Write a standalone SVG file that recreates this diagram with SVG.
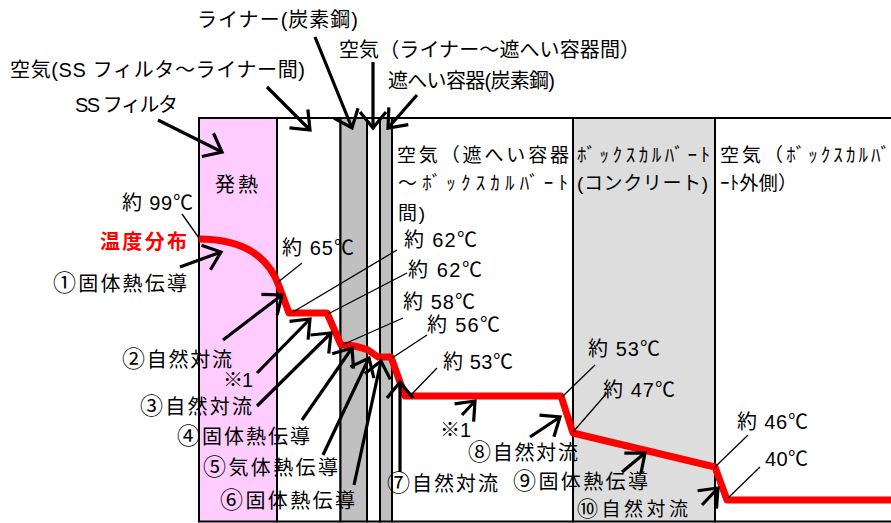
<svg xmlns="http://www.w3.org/2000/svg" width="891" height="523" viewBox="0 0 891 523">
<style>
.t{font-family:"Liberation Sans","Noto Sans CJK JP",sans-serif;font-size:20px;fill:#000}
.hd{font-family:"Liberation Sans","Noto Sans CJK JP",sans-serif;font-size:19px;fill:#000}
.cd{font-family:"Noto Sans CJK JP",sans-serif;font-size:23px}
.red{fill:#FF0000;font-weight:bold}
.col{stroke:#000;stroke-width:2}
.ar{fill:none;stroke:#000;stroke-width:3.2;marker-end:url(#ah)}
.ld{fill:none;stroke:#000;stroke-width:1.3}
.curve{fill:none;stroke:#FF0000;stroke-width:7;stroke-linejoin:round}
</style>
<defs>
<marker id="ah" markerUnits="userSpaceOnUse" viewBox="-20 -16 24 32" markerWidth="24" markerHeight="32" refX="0" refY="0" orient="auto" overflow="visible">
<path d="M-16,-13 L0,0 L-16,13" fill="none" stroke="#000" stroke-width="3.2"/>
</marker>
</defs>
<rect width="891" height="523" fill="#fff"/>

<g id="ss-filter">
<rect class="col" x="199" y="118" width="78" height="403.5" fill="#FFCCFF"/>
<text class="t" x="215" y="192" textLength="43" lengthAdjust="spacing">発熱</text>
</g>
<g id="air-ss-liner"><rect class="col" x="277" y="118" width="63.5" height="403.5" fill="#fff"/></g>
<g id="liner"><rect class="col" x="340.5" y="118" width="26.5" height="403.5" fill="#C0C0C0"/></g>
<g id="air-liner-shield"><rect class="col" x="367" y="118" width="13" height="403.5" fill="#fff"/></g>
<g id="shield"><rect class="col" x="380" y="118" width="12" height="403.5" fill="#C0C0C0"/></g>
<g id="air-shield-culvert">
<rect class="col" x="392" y="118" width="181" height="403.5" fill="#fff"/>
<text class="hd" x="397" y="162" textLength="172" lengthAdjust="spacing">空気（遮へい容器</text>
<text class="hd" x="398" y="190" textLength="170" lengthAdjust="spacing">～ﾎﾞｯｸｽｶﾙﾊﾞｰﾄ</text>
<text class="hd" x="398" y="220" textLength="27" lengthAdjust="spacing">間)</text>
</g>
<g id="box-culvert">
<rect class="col" x="573" y="118" width="142" height="403.5" fill="#DDDDDD"/>
<text class="hd" x="577" y="162" textLength="133" lengthAdjust="spacing">ﾎﾞｯｸｽｶﾙﾊﾞｰﾄ</text>
<text class="hd" x="577" y="190" textLength="131" lengthAdjust="spacing">(コンクリート)</text>
</g>
<g id="air-outside">
<rect class="col" x="715" y="118" width="190" height="403.5" fill="#fff"/>
<text class="hd" x="720" y="162" textLength="170" lengthAdjust="spacing">空気（ﾎﾞｯｸｽｶﾙﾊﾞ</text>
<text class="hd" x="720" y="190" textLength="77" lengthAdjust="spacing">ｰﾄ外側）</text>
</g>

<g id="temp-curve">
<path class="curve" d="M199,239 Q262,239 279,286 L289,313 L327,313 L341,345 Q356,345 368,350 L378,357 L391,357 L405,396 L561,396 L573,433 L715,467 L727,500 L891,500"/>
</g>

<g id="connectors">
<path class="ld" d="M182,214 L199,238"/>
<path class="ld" d="M302,263 L277,283"/>
<path class="ld" d="M397,250 L293,312"/>
<path class="ld" d="M407,273 L328,314"/>
<path class="ld" d="M403,318 L342,345"/>
<path class="ld" d="M427,335 L392,358"/>
<path class="ld" d="M437,368 L410,396"/>
<path class="ld" d="M595,365 L562,397"/>
<path class="ld" d="M607,393 L573,432"/>
<path class="ld" d="M748,435 L714,468"/>
<path class="ld" d="M760,467 L728,498"/>

<path class="ar" d="M315,37 L352,128"/>
<path class="ar" d="M373,62 L373,128"/>
<path class="ar" d="M417,95 L388,128"/>
<path class="ar" d="M267,87 L310,130"/>
<path class="ar" d="M158,120 L222,152"/>
<path class="ar" d="M180,267 L221,252"/>
<path class="ar" d="M223,340 L282,295"/>
<path class="ar" d="M257,373 L310,319"/>
<path class="ar" d="M257,406 L331,333"/>
<path class="ar" d="M302,420 L352,348"/>
<path class="ar" d="M323,455 L369,358"/>
<path class="ar" d="M354,485 L381,361"/>
<path class="ar" d="M400,472 L400,382"/>
<path class="ar" d="M462,415 L475,401"/>
<path class="ar" d="M530,437 L560,417"/>
<path class="ar" d="M622,472 L645,453"/>
<path class="ar" d="M702,505 L718,488"/>
</g>

<g id="labels-top">
<text class="t" x="197" y="27" textLength="161" lengthAdjust="spacing">ライナー(炭素鋼)</text>
<text class="t" x="339" y="57" textLength="301" lengthAdjust="spacing">空気（ライナー～遮へい容器間）</text>
<text class="t" x="388" y="88" textLength="167" lengthAdjust="spacing">遮へい容器(炭素鋼)</text>
<text class="t" x="10" y="77" textLength="295" lengthAdjust="spacing">空気(SS フィルタ～ライナー間)</text>
<text class="t" x="75" y="112" textLength="103" lengthAdjust="spacing">SS フィルタ</text>
</g>

<g id="labels-temp">
<text class="t" x="122" y="210" textLength="71" lengthAdjust="spacing">約 99℃</text>
<text class="t red" x="100" y="249" textLength="87" lengthAdjust="spacing">温度分布</text>
<text class="t" x="282" y="255" textLength="72" lengthAdjust="spacing">約 65℃</text>
<text class="t" x="404" y="247" textLength="73" lengthAdjust="spacing">約 62℃</text>
<text class="t" x="408" y="277" textLength="74" lengthAdjust="spacing">約 62℃</text>
<text class="t" x="403" y="309" textLength="72" lengthAdjust="spacing">約 58℃</text>
<text class="t" x="427" y="332" textLength="73" lengthAdjust="spacing">約 56℃</text>
<text class="t" x="443" y="369" textLength="70" lengthAdjust="spacing">約 53℃</text>
<text class="t" x="588" y="356" textLength="72" lengthAdjust="spacing">約 53℃</text>
<text class="t" x="603" y="397" textLength="72" lengthAdjust="spacing">約 47℃</text>
<text class="t" x="737" y="429" textLength="71" lengthAdjust="spacing">約 46℃</text>
<text class="t" x="765" y="466" textLength="43" lengthAdjust="spacing">40℃</text>
</g>

<g id="labels-heat">
<text class="t" x="53" y="291" textLength="134" lengthAdjust="spacing"><tspan class="cd">①</tspan>固体熱伝導</text>
<text class="t" x="122" y="367" textLength="110" lengthAdjust="spacing"><tspan class="cd">②</tspan>自然対流</text>
<text class="t" x="223" y="387" textLength="30" lengthAdjust="spacing">※1</text>
<text class="t" x="140" y="414" textLength="112" lengthAdjust="spacing"><tspan class="cd">③</tspan>自然対流</text>
<text class="t" x="177" y="444" textLength="133" lengthAdjust="spacing"><tspan class="cd">④</tspan>固体熱伝導</text>
<text class="t" x="203" y="475" textLength="135" lengthAdjust="spacing"><tspan class="cd">⑤</tspan>気体熱伝導</text>
<text class="t" x="220" y="508" textLength="135" lengthAdjust="spacing"><tspan class="cd">⑥</tspan>固体熱伝導</text>
<text class="t" x="387" y="491" textLength="111" lengthAdjust="spacing"><tspan class="cd">⑦</tspan>自然対流</text>
<text class="t" x="440" y="437" textLength="31" lengthAdjust="spacing">※1</text>
<text class="t" x="468" y="460" textLength="110" lengthAdjust="spacing"><tspan class="cd">⑧</tspan>自然対流</text>
<text class="t" x="513" y="489" textLength="135" lengthAdjust="spacing"><tspan class="cd">⑨</tspan>固体熱伝導</text>
<text class="t" x="577" y="516" textLength="111" lengthAdjust="spacing" style="font-size:19px"><tspan style="font-size:21px;font-family:'Noto Sans CJK JP',sans-serif">⑩</tspan>自然対流</text>
</g>
</svg>
